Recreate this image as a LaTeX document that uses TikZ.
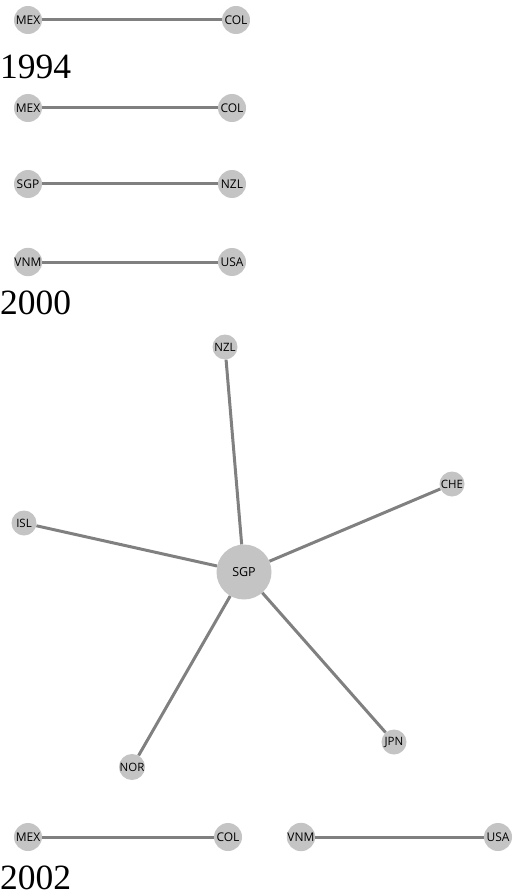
\documentclass[tikz,border=0pt]{standalone}
\usepackage{fontspec}
\newfontfamily\labfont{Open Sans}
\newfontfamily\yearfont{Liberation Serif}
\begin{document}
\begin{tikzpicture}[x=1pt,y=-1pt,
  country/.style={circle,fill=nodegray,minimum size=28pt,inner sep=0pt,text=black,font=\labfont\fontsize{12}{14}\selectfont},
  smallc/.style={country,minimum size=25pt,font=\labfont\fontsize{11.5}{13}\selectfont},
  hub/.style={country,minimum size=55pt,font=\labfont\fontsize{12.5}{14}\selectfont},
  link/.style={draw=edgegray,line width=3pt},
  year/.style={anchor=west,inner sep=0pt,font=\yearfont\fontsize{35.5}{38}\selectfont}]
\definecolor{nodegray}{HTML}{C4C4C4}
\definecolor{edgegray}{HTML}{808080}
\useasboundingbox (0,0) rectangle (512,896);
% row 1
\node[country] (mex1) at (28,20) {MEX};
\node[country] (col1) at (236,20) {COL};
\draw[link] (mex1) -- (col1);
\node[year] (y1994) at (0,67) {1994};
% 1994 panel
\node[country] (mex2) at (28,108) {MEX};
\node[country] (col2) at (232,108) {COL};
\draw[link] (mex2) -- (col2);
\node[country] (sgp2) at (28,184) {SGP};
\node[country] (nzl2) at (232,184) {NZL};
\draw[link] (sgp2) -- (nzl2);
\node[country] (vnm2) at (28,262) {VNM};
\node[country] (usa2) at (232,262) {USA};
\draw[link] (vnm2) -- (usa2);
\node[year] (y2000) at (0,303) {2000};
% 2000 panel: star
\node[hub] (sgp3) at (244,572) {SGP};
\node[smallc] (nzl3) at (225,347) {NZL};
\node[smallc] (che3) at (452,484) {CHE};
\node[smallc] (isl3) at (24,523) {ISL};
\node[smallc] (jpn3) at (394,742) {JPN};
\node[smallc] (nor3) at (132,767) {NOR};
\foreach \n in {nzl3,che3,isl3,jpn3,nor3} \draw[link] (sgp3) -- (\n);
% bottom row
\node[country] (mex4) at (28,837) {MEX};
\node[country] (col4) at (228,837) {COL};
\draw[link] (mex4) -- (col4);
\node[country] (vnm4) at (301,837) {VNM};
\node[country] (usa4) at (498,837) {USA};
\draw[link] (vnm4) -- (usa4);
\node[year] (y2002) at (0,878) {2002};
\end{tikzpicture}
\end{document}
